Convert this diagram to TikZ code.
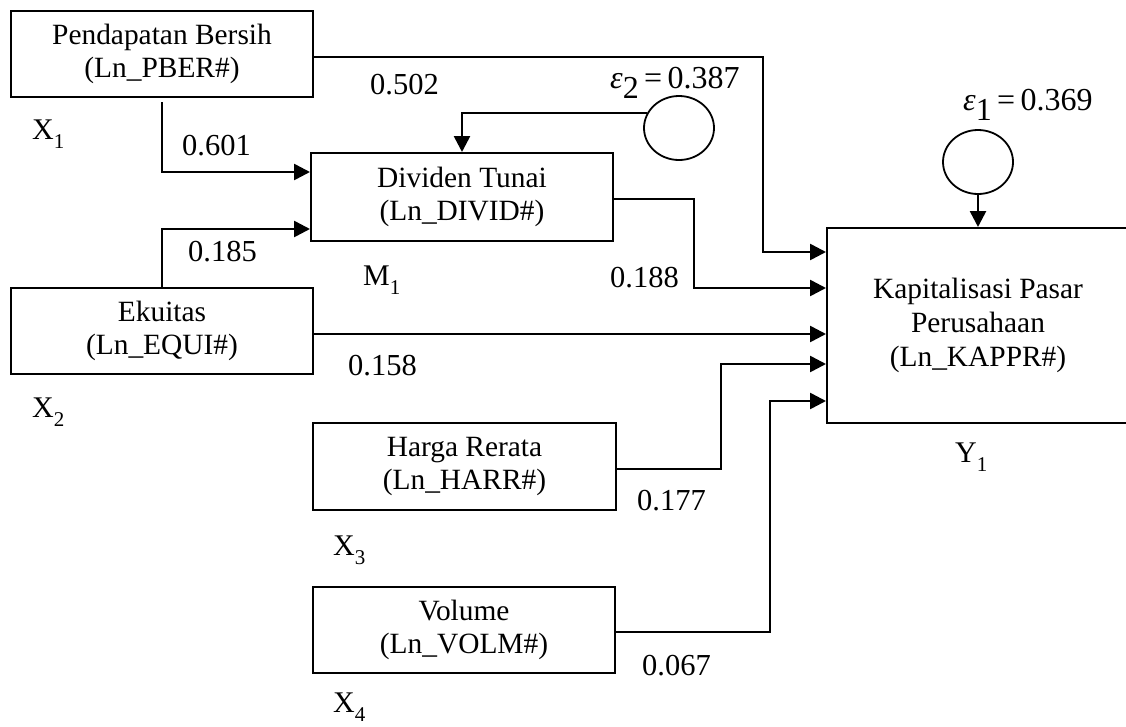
\documentclass[tikz,border=0pt]{standalone}
\usepackage{fontspec}
\setmainfont{Liberation Serif}
\usetikzlibrary{arrows.meta,shapes.geometric}
\newcommand\mysub[1]{\raisebox{-9pt}{\fontsize{21}{21}\selectfont #1}}
\begin{document}
\begin{tikzpicture}[x=1pt,y=-1pt,
  box/.style={draw,line width=2pt,rectangle,inner sep=0pt,align=center,font=\fontsize{29.4}{33}\selectfont},
  conn/.style={line width=2.6pt,-{Triangle[length=16pt,width=16pt]}},
  err/.style={draw,ellipse,line width=1.8pt,minimum width=70pt,minimum height=64pt,inner sep=0pt},
  lbl/.style={anchor=base west,inner sep=0pt,font=\fontsize{30.5}{33}\selectfont},
  var/.style={anchor=base west,inner sep=0pt,font=\fontsize{30}{33}\selectfont},
  eps/.style={anchor=base west,inner sep=0pt,font=\fontsize{32}{34}\selectfont},
]
\useasboundingbox (0,0) rectangle (1126,726);

% boxes
\node[box,minimum width=302pt,minimum height=86pt] (pber) at (162,54) {Pendapatan Bersih\\(Ln\_PBER\#)};
\node[box,minimum width=302pt,minimum height=88pt] (divid) at (462,197) {Dividen Tunai\\(Ln\_DIVID\#)};
\node[box,minimum width=302pt,minimum height=86pt] (equi) at (162,331) {Ekuitas\\(Ln\_EQUI\#)};
\node[box,minimum width=303pt,minimum height=87pt] (harr) at (464.5,466.5) {Harga Rerata\\(Ln\_HARR\#)};
\node[box,minimum width=302pt,minimum height=86pt] (volm) at (464,630) {Volume\\(Ln\_VOLM\#)};
\node[box,minimum width=302pt,minimum height=195pt,font=\fontsize{29.4}{34}\selectfont] (kap) at (978,325.5) {Kapitalisasi Pasar\\Perusahaan\\(Ln\_KAPPR\#)};

% error terms
\node[err] (e2) at (679,128) {};
\node[err] (e1) at (978,162) {};

% connectors
\draw[conn] ([yshift=-3pt]pber.east) -| (763,252) -- (kap.west |- 0,252);
\draw[conn,shorten <=4pt] (pber.south) |- ([yshift=25pt]divid.west);
\draw[conn] (equi.north) |- ([yshift=-32pt]divid.west);
\draw[conn] ([yshift=-2pt]divid.east) -| (694,288) -- (kap.west |- 0,288);
\draw[conn] ([yshift=-3pt]equi.east) -- (kap.west |- 0,334);
\draw[conn] ([yshift=-2.5pt]harr.east) -| (721,364) -- (kap.west |- 0,364);
\draw[conn] ([yshift=-2pt]volm.east) -| (770,401) -- (kap.west |- 0,401);
\draw[conn] (e2.155) -| (divid.north);
\draw[conn] (e1) -- (e1 |- kap.north);

% labels
\node[lbl] (l502) at (370,94) {0.502};
\node[lbl] (l601) at (182,155) {0.601};
\node[lbl] (l185) at (188,261) {0.185};
\node[lbl] (l188) at (610,287) {0.188};
\node[lbl] (l158) at (348,375) {0.158};
\node[lbl] (l177) at (637,510) {0.177};
\node[lbl] (l067) at (642,675) {0.067};

\node[var] (x1) at (32,139) {X\mysub{1}};
\node[var] (x2) at (32,417) {X\mysub{2}};
\node[var] (x3) at (333,555) {X\mysub{3}};
\node[var] (x4) at (333,712) {X\mysub{4}};
\node[var] (m1) at (363,285) {M\mysub{1}};
\node[var] (y1) at (955,462) {Y\mysub{1}};

\node[eps] (eps2) at (610,88) {\textit{ε}\raisebox{-10pt}{2}\,=\,0.387};
\node[eps] (eps1) at (963,110) {\textit{ε}\raisebox{-10pt}{1}\,=\,0.369};
\end{tikzpicture}
\end{document}
